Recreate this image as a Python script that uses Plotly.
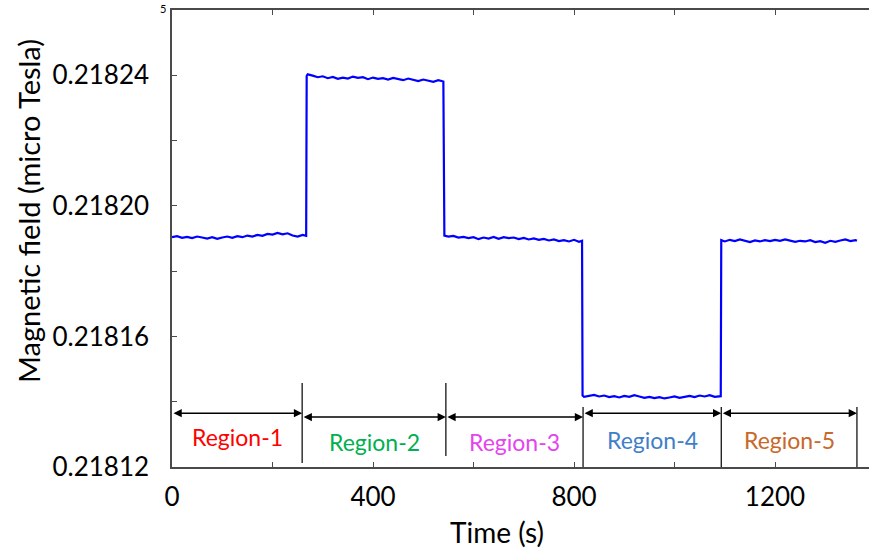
import plotly.graph_objects as go

# ---------------- data ----------------
region1_time = [0, 10, 20, 30, 40, 50, 60, 70, 80, 90, 100, 110, 120, 130, 140,
                150, 160, 170, 180, 190, 200, 210, 220, 230, 240, 250, 260, 267]
region1_field = [0.2181904, 0.2181907, 0.2181902, 0.2181905, 0.2181901, 0.2181906,
                 0.2181903, 0.2181900, 0.2181904, 0.2181899, 0.2181903, 0.2181906,
                 0.2181902, 0.2181907, 0.2181904, 0.2181909, 0.2181906, 0.2181911,
                 0.2181908, 0.2181914, 0.2181912, 0.2181917, 0.2181913, 0.2181916,
                 0.2181909, 0.2181906, 0.2181911, 0.2181908]

region2_time = [268, 270, 280, 290, 300, 310, 320, 330, 340, 350, 360, 370, 380, 390,
                400, 410, 420, 430, 440, 450, 460, 470, 480, 490, 500, 510, 520, 530, 540]
region2_field = [0.2182398, 0.2182403, 0.2182399, 0.2182394, 0.2182397, 0.2182391,
                 0.2182395, 0.2182389, 0.2182393, 0.2182390, 0.2182396, 0.2182392,
                 0.2182394, 0.2182388, 0.2182393, 0.2182389, 0.2182391, 0.2182387,
                 0.2182392, 0.2182388, 0.2182385, 0.2182390, 0.2182386, 0.2182382,
                 0.2182387, 0.2182383, 0.2182380, 0.2182385, 0.2182381]

region3_time = [542, 550, 560, 570, 580, 590, 600, 610, 620, 630, 640, 650, 660, 670,
                680, 690, 700, 710, 720, 730, 740, 750, 760, 770, 780, 790, 800, 810, 816]
region3_field = [0.2181909, 0.2181906, 0.2181908, 0.2181903, 0.2181905, 0.2181901,
                 0.2181904, 0.2181898, 0.2181903, 0.2181900, 0.2181905, 0.2181899,
                 0.2181904, 0.2181901, 0.2181903, 0.2181898, 0.2181902, 0.2181897,
                 0.2181900, 0.2181896, 0.2181899, 0.2181894, 0.2181897, 0.2181892,
                 0.2181895, 0.2181891, 0.2181896, 0.2181890, 0.2181893]

region4_time = [817, 820, 830, 840, 850, 860, 870, 880, 890, 900, 910, 920, 930, 940,
                950, 960, 970, 980, 990, 1000, 1010, 1020, 1030, 1040, 1050, 1060,
                1070, 1080, 1090, 1092]
region4_field = [0.2181419, 0.2181415, 0.2181418, 0.2181421, 0.2181416, 0.2181419,
                 0.2181414, 0.2181417, 0.2181413, 0.2181418, 0.2181415, 0.2181420,
                 0.2181416, 0.2181412, 0.2181415, 0.2181411, 0.2181414, 0.2181410,
                 0.2181413, 0.2181416, 0.2181412, 0.2181415, 0.2181418, 0.2181414,
                 0.2181419, 0.2181416, 0.2181420, 0.2181415, 0.2181418, 0.2181417]

region5_time = [1093, 1100, 1110, 1120, 1130, 1140, 1150, 1160, 1170, 1180, 1190, 1200,
                1210, 1220, 1230, 1240, 1250, 1260, 1270, 1280, 1290, 1300, 1310, 1320,
                1330, 1340, 1350, 1360, 1363]
region5_field = [0.2181895, 0.2181891, 0.2181896, 0.2181892, 0.2181897, 0.2181893,
                 0.2181889, 0.2181894, 0.2181891, 0.2181895, 0.2181892, 0.2181896,
                 0.2181893, 0.2181897, 0.2181894, 0.2181890, 0.2181893, 0.2181891,
                 0.2181895, 0.2181889, 0.2181892, 0.2181887, 0.2181893, 0.2181890,
                 0.2181894, 0.2181897, 0.2181892, 0.2181895, 0.2181893]

region_names = ["Region-1", "Region-2", "Region-3", "Region-4", "Region-5"]
region_bounds = [0, 259, 545, 818, 1093, 1363]

y_tickvals = [0.21812, 0.21816, 0.21820, 0.21824]
y_ticktext = ["0.21812", "0.21816", "0.21820", "0.21824"]
x_tickvals = [0, 400, 800, 1200]
x_ticktext = ["0", "400", "800", "1200"]

# ---------------- annotation layout (positions / styles) ----------------
region_colors = ["#FF0000", "#00B050", "#E444EE", "#3F7FC8", "#C8682A"]
arrow_levels = [0.2181365, 0.2181353, 0.2181353, 0.2181365, 0.2181365]
label_levels = [0.2181292, 0.2181277, 0.2181277, 0.2181283, 0.2181283]
divider_top = [0.2181457, 0.2181457, 0.2181384, 0.2181384, 0.2181384]
divider_bottom = [0.2181212, 0.2181234, 0.21812, 0.21812, 0.21812]

FONT = "Lato"
AXIS_COLOR = "#4a4a4a"
W, H = 869, 552
L, R, T, B = 172, 0, 10, 85
pw, ph = W - L - R, H - T - B


def px_to_paper(px, py):
    return (px - L) / pw, (H - B - py) / ph


time_s = region1_time + region2_time + region3_time + region4_time + region5_time
field = region1_field + region2_field + region3_field + region4_field + region5_field

fig = go.Figure()
fig.add_trace(go.Scatter(x=time_s, y=field, mode="lines",
                         line=dict(color="#0000FF", width=2.2), showlegend=False,
                         hoverinfo="skip"))

# divider lines
for xb, yt, yb in zip(region_bounds[1:], divider_top, divider_bottom):
    fig.add_shape(type="line", xref="x", yref="y", x0=xb, x1=xb, y0=yb, y1=yt,
                  line=dict(color="black", width=1.2))

# double-headed arrows and labels
for i, name in enumerate(region_names):
    x0, x1 = region_bounds[i], region_bounds[i + 1]
    fig.add_annotation(x=x1, y=arrow_levels[i], ax=x0, ay=arrow_levels[i],
                       xref="x", yref="y", axref="x", ayref="y", text="",
                       showarrow=True, arrowhead=2, startarrowhead=2,
                       arrowside="end+start", arrowsize=1.1, startarrowsize=1.1,
                       arrowwidth=1.5, arrowcolor="black", standoff=0, startstandoff=0)
    fig.add_annotation(x=(x0 + x1) / 2, y=label_levels[i], xref="x", yref="y",
                       text=name, showarrow=False,
                       font=dict(family=FONT, size=23, color=region_colors[i]))

# axis titles as annotations for exact placement
tx, ty = px_to_paper(28, 211)
fig.add_annotation(x=tx, y=ty, xref="paper", yref="paper", xanchor="center", yanchor="middle",
                   text="Magnetic field (micro Tesla)", showarrow=False, textangle=-90,
                   font=dict(family=FONT, size=29, color="black"))
tx, ty = px_to_paper(497, 532)
fig.add_annotation(x=tx, y=ty, xref="paper", yref="paper", xanchor="center", yanchor="middle",
                   text="Time (s)", showarrow=False,
                   font=dict(family=FONT, size=28, color="black"))
tx, ty = px_to_paper(163, 0)
fig.add_annotation(x=tx, y=ty, xref="paper", yref="paper", xanchor="center", yanchor="top",
                   text="5", showarrow=False, font=dict(family=FONT, size=11, color="black"))

fig.update_layout(
    width=W, height=H,
    margin=dict(l=L, r=R, t=T, b=B),
    paper_bgcolor="white", plot_bgcolor="white",
    font=dict(family=FONT, size=26, color="black"),
    xaxis=dict(range=[0, 1387], tickvals=x_tickvals, ticktext=x_ticktext,
               ticks="inside", ticklen=5, tickcolor=AXIS_COLOR, tickwidth=1,
               minor=dict(dtick=200, tick0=0, ticks="inside", ticklen=5, tickcolor=AXIS_COLOR),
               showline=True, linecolor=AXIS_COLOR, linewidth=1.5, mirror="ticks",
               showgrid=False, zeroline=False,
               tickfont=dict(family=FONT, size=26), ticklabelstandoff=6),
    yaxis=dict(range=[0.21812, 0.21826], tickvals=y_tickvals, ticktext=y_ticktext,
               ticks="inside", ticklen=5, tickcolor=AXIS_COLOR, tickwidth=1,
               minor=dict(dtick=0.00002, tick0=0.21812, ticks="inside", ticklen=5,
                          tickcolor=AXIS_COLOR),
               showline=True, linecolor=AXIS_COLOR, linewidth=1.5, mirror=False,
               showgrid=False, zeroline=False,
               tickfont=dict(family=FONT, size=26), ticklabelstandoff=16),
)

fig.write_html("out.html")
